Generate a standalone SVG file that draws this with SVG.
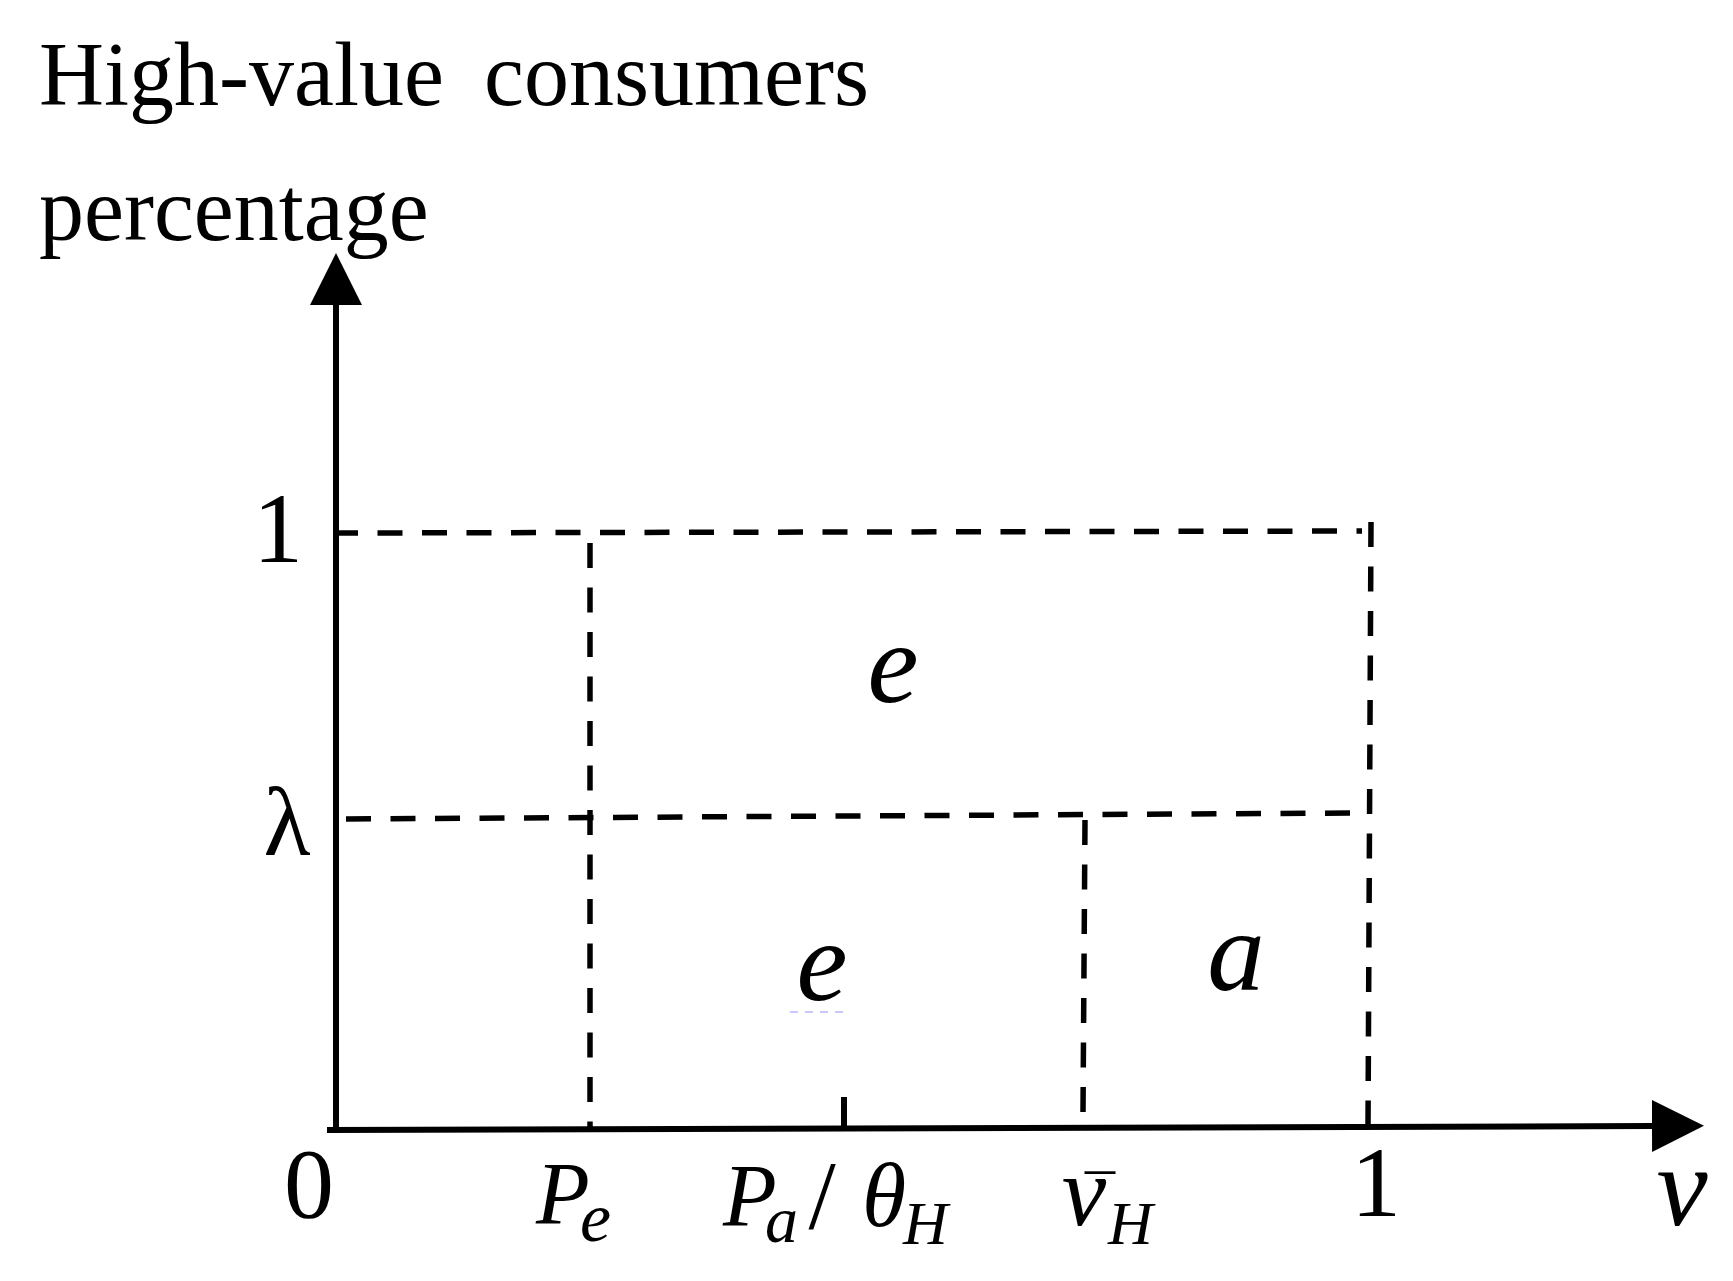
<svg xmlns="http://www.w3.org/2000/svg" width="1733" height="1281" viewBox="0 0 1733 1281">
<style>
.t{font-family:"Liberation Serif","Times New Roman",serif;fill:#000}
.m{font-family:"Liberation Serif","Times New Roman",serif;font-style:italic;fill:#000}
.axis{stroke:#000;stroke-width:6;fill:none}
.dash{stroke:#000;stroke-width:5.5;fill:none;stroke-dasharray:25 19.5}
</style>
<defs>
<marker id="arr" markerUnits="userSpaceOnUse" markerWidth="52" markerHeight="52" refX="0" refY="25" orient="auto" viewBox="0 0 50 50">
<path d="M0,0 L50,25 L0,50 Z" fill="#000"/>
</marker>
</defs>
<rect width="1733" height="1281" fill="#fff"/>
<g id="title">
<text class="t" x="39" y="105" font-size="90">High-value</text>
<text class="t" x="484" y="105" font-size="90">consumers</text>
<text class="t" x="39" y="240" font-size="90">percentage</text>
</g>
<g id="connectors">
<line id="y-axis" class="axis" x1="336" y1="1132" x2="336" y2="305" marker-end="url(#arr)"/>
<line id="x-axis" class="axis" x1="327" y1="1130" x2="1652" y2="1126" marker-end="url(#arr)"/>
<line class="dash" x1="339" y1="533" x2="1362" y2="531" stroke-dashoffset="6"/>
<line class="dash" x1="1371" y1="522" x2="1368" y2="1126"/>
<line class="dash" x1="346" y1="819" x2="1350" y2="813"/>
<line class="dash" x1="590" y1="543" x2="590" y2="1130"/>
<line class="dash" x1="1085" y1="820" x2="1083" y2="1112"/>
<line class="axis" x1="844" y1="1097" x2="844" y2="1126" stroke-width="5"/>
<line x1="790" y1="1012" x2="848" y2="1012" stroke="#c8c8ff" stroke-width="2" stroke-dasharray="8 7"/>
</g>
<g id="y-labels">
<text class="t" x="278" y="562" font-size="100" text-anchor="middle">1</text>
<text class="t" x="287" y="855" font-size="97" text-anchor="middle">λ</text>
</g>
<g id="x-labels">
<text class="t" x="309" y="1217" font-size="100" text-anchor="middle">0</text>
<text class="t" x="1376" y="1216" font-size="100" text-anchor="middle">1</text>
<text class="m" x="1682" y="1225" font-size="115" text-anchor="middle">v</text>
<g id="label-Pe">
<text class="m" x="536" y="1223" font-size="88">P</text>
<text class="m" x="580" y="1241" font-size="70">e</text>
</g>
<g id="label-PaThetaH">
<text class="m" x="723" y="1225" font-size="88">P</text>
<text class="m" x="765" y="1242" font-size="66">a</text>
<text class="t" x="822" y="1228" font-size="98" text-anchor="middle">/</text>
<text class="m" x="884" y="1226" font-size="90" text-anchor="middle">θ</text>
<text class="m" x="903" y="1244" font-size="62">H</text>
</g>
<g id="label-vH">
<text class="m" x="1084" y="1225" font-size="100" text-anchor="middle">v</text>
<text class="t" x="1100" y="1216" font-size="60" text-anchor="middle">¯</text>
<text class="m" x="1108" y="1244" font-size="62">H</text>
</g>
</g>
<g id="region-e-top"><text class="m" x="893" y="702" font-size="115" text-anchor="middle">e</text></g>
<g id="region-e-bottom"><text class="m" x="822" y="1000" font-size="115" text-anchor="middle">e</text></g>
<g id="region-a"><text class="m" x="1236" y="990" font-size="115" text-anchor="middle">a</text></g>
</svg>
